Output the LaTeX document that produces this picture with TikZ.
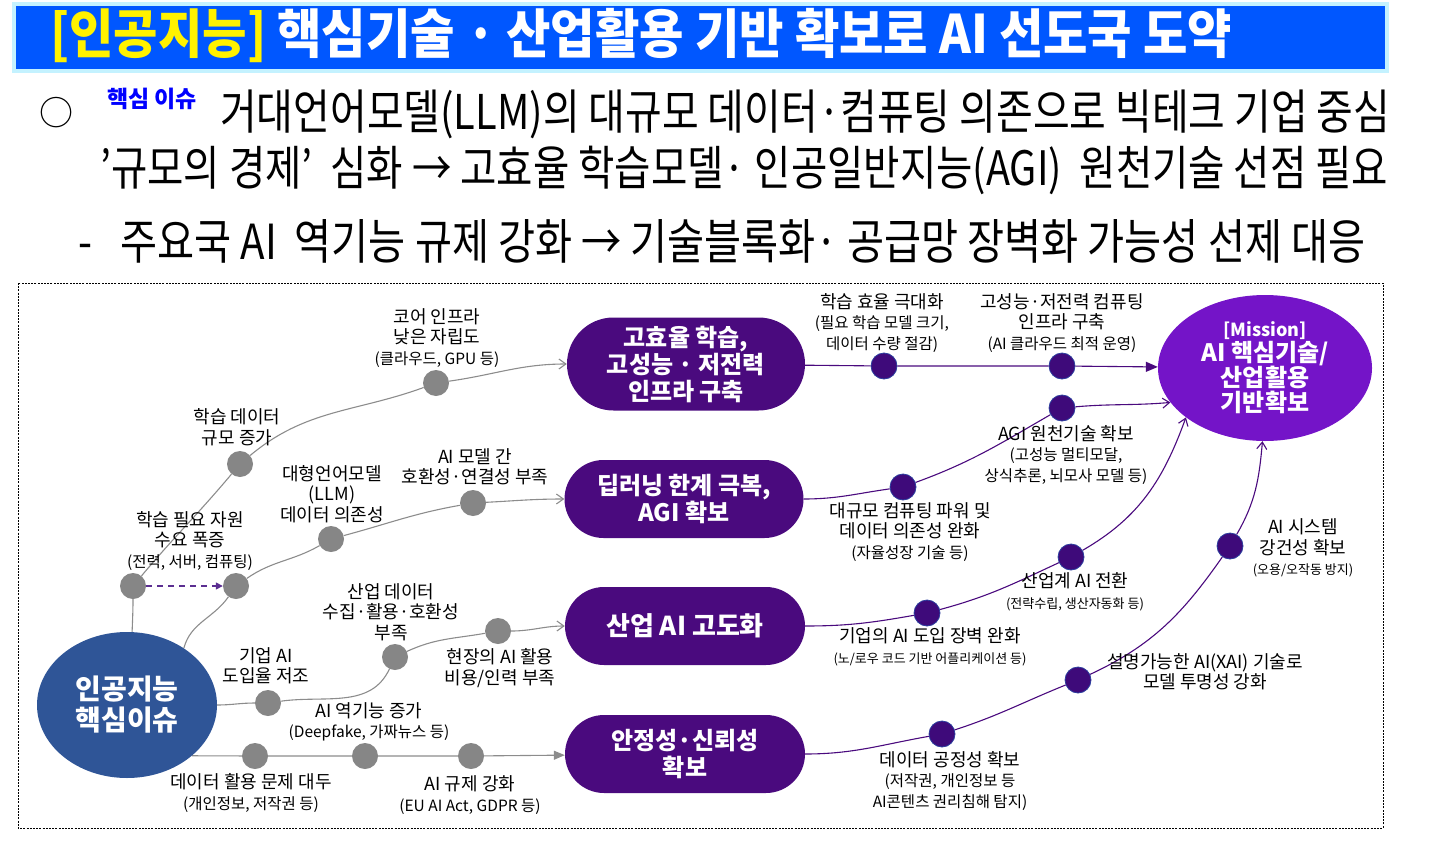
\documentclass[tikz,border=0pt]{standalone}
\usepackage{fontspec}
\setmainfont{Noto Sans CJK KR}
\usepackage{graphicx}
\usetikzlibrary{shapes.geometric,shapes.misc,arrows.meta}
\definecolor{titleblue}{HTML}{0057FF}
\definecolor{titlerim}{HTML}{C4F2FF}
\definecolor{issueblue}{HTML}{0000FF}
\definecolor{circblue}{HTML}{2F5597}
\definecolor{capviolet}{HTML}{4A0A7E}
\definecolor{misviolet}{HTML}{7414C8}
\definecolor{dotgray}{HTML}{868686}
\definecolor{linegray}{HTML}{8C8C8C}
\definecolor{dotpurple}{HTML}{3E0A7A}
\definecolor{dotrim}{HTML}{2B3E9E}
\definecolor{linepurple}{HTML}{4A0A7E}
\definecolor{dashpurple}{HTML}{5B2E91}
\newcommand\smtxt{\fontsize{15.5}{18}\selectfont}
\newcommand\xstxt{\fontsize{13}{16}\selectfont}
\pgfdeclarelayer{bg}\pgfsetlayers{bg,main}
\begin{document}
\begin{tikzpicture}[x=1pt,y=1pt,
 lbl/.style={align=center,inner sep=0pt,font=\fontsize{18}{20.5}\selectfont},
 gdot/.style={circle,fill=dotgray,minimum size=26pt,inner sep=0pt},
 pdot/.style={circle,fill=dotpurple,draw=dotrim,line width=0.8pt,minimum size=26pt,inner sep=0pt},
 capbox/.style={rounded rectangle,fill=capviolet,text=white,align=center,inner sep=0pt,font=\fontsize{24}{27}\bfseries},
 gl/.style={draw=linegray,line width=1.1pt},
 pl/.style={draw=linepurple,line width=1.1pt},
 openhead/.style={-{Straight Barb[length=7pt,width=10pt]}},
 fullhead/.style={-{Triangle[length=11pt,width=9pt]}},
 bodyline/.style={anchor=west,inner sep=0pt},
]
\useasboundingbox (0,0) rectangle (1431,-848);
% ---------- title ----------
\fill[titlerim] (12,-2) rectangle (1389,-73);
\fill[titleblue] (16,-6) rectangle (1385,-69);
\node[anchor=west,inner sep=0pt] (title) at (50,-36) {\resizebox{1182pt}{!}{\scalebox{1}[1.1]{\fontsize{46}{46}\bfseries\textcolor{yellow}{[인공지능]} \textcolor{white}{핵심기술 · 산업활용 기반 확보로 AI 선도국 도약}}}};
% ---------- body text ----------
\node (bul) at (56,-113) {\fontsize{34}{34}\selectfont ○};
\node (issue) at (152,-99) {\fontsize{23}{23}\bfseries\textcolor{issueblue}{핵심 이슈}};
\node[bodyline] (l1) at (220,-114) {\resizebox{1170pt}{!}{\scalebox{1}[1.2]{\fontsize{38}{38}\selectfont 거대언어모델(LLM)의 대규모 데이터·컴퓨팅 의존으로 빅테크 기업 중심}}};
\node[bodyline] (l2) at (100,-170) {\resizebox{1288pt}{!}{\scalebox{1}[1.2]{\fontsize{38}{38}\selectfont ’규모의 경제’\ \ 심화 → 고효율 학습모델· 인공일반지능(AGI)\ \ 원천기술 선점 필요}}};
\node[bodyline] (l3) at (78,-241) {\resizebox{1287pt}{!}{\scalebox{1}[1.2]{\fontsize{38}{38}\selectfont -\hspace{0.7em}주요국 AI\ \ 역기능 규제 강화 → 기술블록화· 공급망 장벽화 가능성 선제 대응}}};
% ---------- frame ----------
\draw[dash pattern=on 2pt off 1.2pt,line width=0.7pt] (18,-283) rectangle (1383,-828);
% ---------- main nodes ----------
\node[ellipse,fill=circblue,minimum width=180pt,minimum height=146pt,inner sep=0pt,text=white,align=center,font=\fontsize{28}{31}\bfseries] (c) at (127,-705) {인공지능\\핵심이슈};
\node[capbox,minimum width=238pt,minimum height=93pt] (k1) at (686,-364) {고효율 학습,\\고성능 · 저전력\\인프라 구축};
\node[capbox,minimum width=239pt,minimum height=78pt] (k2) at (684,-499) {딥러닝 한계 극복,\\AGI 확보};
\node[capbox,minimum width=240pt,minimum height=78pt,font=\fontsize{26}{29}\bfseries] (k3) at (685,-626) {산업 AI 고도화};
\node[capbox,minimum width=240pt,minimum height=78pt] (k4) at (685,-754) {안정성·신뢰성\\확보};
\node[ellipse,fill=misviolet,minimum width=214pt,minimum height=146pt,inner sep=0pt,text=white,align=center,font=\fontsize{24}{25}\bfseries] (m) at (1265,-368) {{\fontsize{18}{20}\selectfont [Mission]}\\AI 핵심기술/\\산업활용\\기반확보};
% ---------- gray dots ----------
\node[gdot] (g1) at (133,-586) {};
\node[gdot] (g2) at (236,-586) {};
\node[gdot] (g3) at (240,-464) {};
\node[gdot] (g4) at (436,-383) {};
\node[gdot] (g5) at (331,-539) {};
\node[gdot] (g6) at (473,-503) {};
\node[gdot] (g7) at (268,-703) {};
\node[gdot] (g8) at (395,-657) {};
\node[gdot] (g9) at (498,-631) {};
\node[gdot] (g10) at (255,-756) {};
\node[gdot] (g11) at (365,-756) {};
\node[gdot] (g12) at (471,-756) {};
% ---------- purple dots ----------
\node[pdot] (p1) at (884,-366) {};
\node[pdot] (p2) at (1062,-366) {};
\node[pdot] (p3) at (903,-487) {};
\node[pdot] (p4) at (1062,-408) {};
\node[pdot] (p5) at (927,-613) {};
\node[pdot] (p6) at (1071,-557) {};
\node[pdot] (p7) at (942,-734) {};
\node[pdot] (p8) at (1078,-680) {};
\node[pdot] (p9) at (1230,-546) {};
% ---------- connectors ----------
\begin{pgfonlayer}{bg}
\draw[gl] (c.86) to[out=88,in=-90] (g1);
\draw[gl,openhead] (g1) to[out=50,in=-130] (g3) to[out=40,in=-160] (g4) to[out=8,in=180] (k1);
\draw[gl,openhead] (c.45) to[out=75,in=-125] (g2) to[out=35,in=-150] (g5) to[out=15,in=-170] (g6) to[out=3,in=180] (k2);
\draw[gl,openhead] (c.east) to[out=0,in=180] (g7) to[out=8,in=-115] (g8) to[out=25,in=-170] (g9) to[out=0,in=180] (k3);
\draw[gl,fullhead] (c.-38) -- (g10) -- (g11) -- (g12) -- (k4);
\draw[pl,-{Triangle[length=12pt,width=10pt]}] (k1) -- (p1) -- (p2) -- (m);
\draw[pl,openhead] (k2) to[out=0,in=-172] (p3) to[out=20,in=-150] (p4) to[out=5,in=185] (m.200);
\draw[pl,openhead] (k3) to[out=0,in=-170] (p5) to[out=15,in=-155] (p6) to[out=30,in=-110] (m.212);
\draw[pl,openhead] (k4) to[out=0,in=-170] (p7) to[out=18,in=-158] (p8) to[out=25,in=-125] (p9) to[out=60,in=-95] (m.268);
\end{pgfonlayer}
\draw[dashpurple,line width=1.5pt,dash pattern=on 6pt off 5pt,-{Triangle[length=7pt,width=7pt]}] (g1) -- (g2);
% ---------- labels ----------
\node[lbl] (lcore) at (437,-338) {코어 인프라\\낮은 자립도\\\smtxt (클라우드, GPU 등)};
\node[lbl] (ldata) at (237,-427) {학습 데이터\\규모 증가};
\node[lbl] (lres) at (190,-541) {학습 필요 자원\\수요 폭증\\\smtxt (전력, 서버, 컴퓨팅)};
\node[lbl] (lllm) at (332,-494) {대형언어모델\\(LLM)\\데이터 의존성};
\node[lbl] (lcomp) at (475,-467) {AI 모델 간\\호환성·연결성 부족};
\node[lbl] (lind) at (391,-612) {산업 데이터\\수집·활용·호환성\\부족};
\node[lbl] (lcorp) at (266,-666) {기업 AI\\도입율 저조};
\node[lbl] (lfield) at (500,-668) {현장의 AI 활용\\비용/인력 부족};
\node[lbl] (lmis) at (369,-722) {AI 역기능 증가\\\smtxt (Deepfake, 가짜뉴스 등)};
\node[lbl] (luse) at (251,-793) {데이터 활용 문제 대두\\\smtxt (개인정보, 저작권 등)};
\node[lbl] (lreg) at (470,-795) {AI 규제 강화\\\smtxt (EU AI Act, GDPR 등)};
\node[lbl] (leff) at (882,-323) {학습 효율 극대화\\\smtxt (필요 학습 모델 크기,\\\smtxt 데이터 수량 절감)};
\node[lbl] (lhpc) at (1062,-323) {고성능·저전력 컴퓨팅\\인프라 구축\\\smtxt (AI 클라우드 최적 운영)};
\node[lbl] (ldep) at (910,-532) {대규모 컴퓨팅 파워 및\\데이터 의존성 완화\\\smtxt (자율성장 기술 등)};
\node[lbl] (lagi) at (1066,-455) {AGI 원천기술 확보\\\smtxt (고성능 멀티모달,\\\smtxt 상식추론, 뇌모사 모델 등)};
\node[lbl] (lbar) at (930,-647) {기업의 AI 도입 장벽 완화\\\xstxt (노/로우 코드 기반 어플리케이션 등)};
\node[lbl] (ltr) at (1075,-592) {산업계 AI 전환\\\xstxt (전략수립, 생산자동화 등)};
\node[lbl] (lfair) at (950,-781) {데이터 공정성 확보\\\smtxt (저작권, 개인정보 등\\\smtxt AI콘텐츠 권리침해 탐지)};
\node[lbl] (lxai) at (1205,-672) {설명가능한 AI(XAI) 기술로\\모델 투명성 강화};
\node[lbl] (lrob) at (1303,-548) {AI 시스템\\강건성 확보\\\xstxt (오용/오작동 방지)};
\end{tikzpicture}
\end{document}
